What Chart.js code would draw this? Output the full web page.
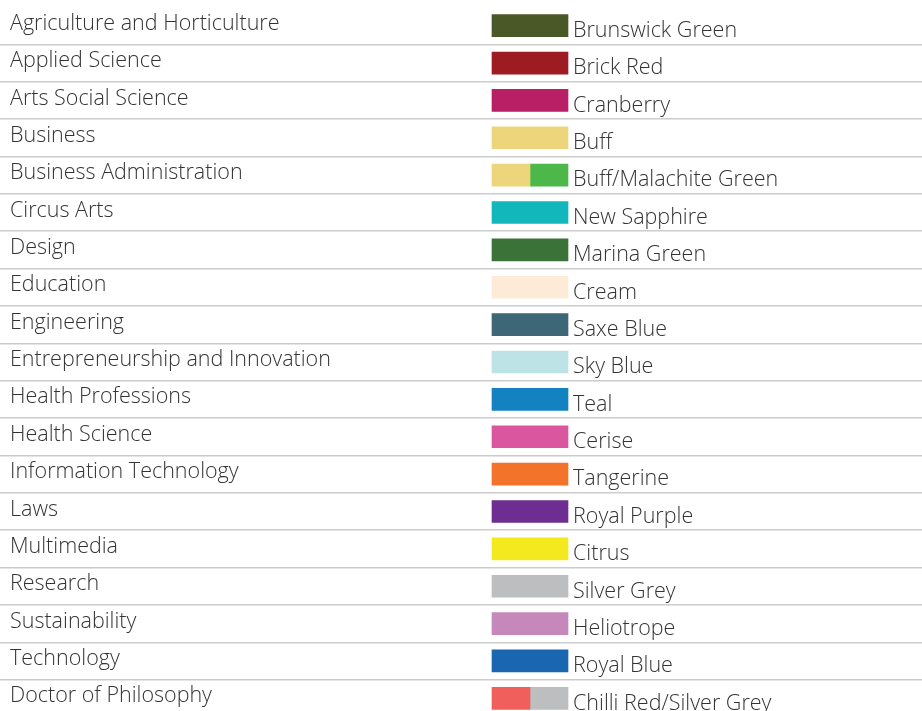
<!DOCTYPE html>
<html>
<head>
<meta charset="utf-8">
<script src="https://cdn.jsdelivr.net/npm/chart.js@4/dist/chart.umd.min.js"></script>
<style>
  html, body { margin: 0; padding: 0; background: #ffffff; overflow: hidden; }
  #wrap { position: relative; width: 922px; height: 717px; }
</style>
</head>
<body>
<div id="wrap"><canvas id="c"></canvas></div>
<script>
// ---- data ----
const categories = [
  "Agriculture and Horticulture",
  "Applied Science",
  "Arts Social Science",
  "Business",
  "Business Administration",
  "Circus Arts",
  "Design",
  "Education",
  "Engineering",
  "Entrepreneurship and Innovation",
  "Health Professions",
  "Health Science",
  "Information Technology",
  "Laws",
  "Multimedia",
  "Research",
  "Sustainability",
  "Technology",
  "Doctor of Philosophy"
];
const colourNames = [
  "Brunswick Green",
  "Brick Red",
  "Cranberry",
  "Buff",
  "Buff/Malachite Green",
  "New Sapphire",
  "Marina Green",
  "Cream",
  "Saxe Blue",
  "Sky Blue",
  "Teal",
  "Cerise",
  "Tangerine",
  "Royal Purple",
  "Citrus",
  "Silver Grey",
  "Heliotrope",
  "Royal Blue",
  "Chilli Red/Silver Grey"
];
const primaryColours = [
  "#4a5727", "#9d1c22", "#b91f65", "#ecd57a", "#ecd57a", "#12b7bc",
  "#3b7237", "#fdebd8", "#3d6677", "#bde3e6", "#1482c1", "#da57a0",
  "#f3732a", "#6c2e91", "#f4e91f", "#bdbec0", "#c688bb", "#1b66b1",
  "#f15f5d"
];
const secondaryColours = [
  null, null, null, null, "#4cb849", null,
  null, null, null, null, null, null,
  null, null, null, null, null, null,
  "#bdbec0"
];

// ---- layout constants ----
const CANVAS_W = 922;
const SWATCH_LEFT = 492;
const SWATCH_W = 76;
const TEXT_COLOUR = "#333333";
const FONT = { family: "'Open Sans', 'DejaVu Sans', sans-serif", size: 21.5, weight: "300" };

const firstPart = secondaryColours.map(c => c ? [0, 0.5] : [0, 1]);
const secondPart = secondaryColours.map(c => c ? [0.5, 1] : null);

const colourNamePlugin = {
  id: "colourNames",
  afterDatasetsDraw(chart) {
    const ctx = chart.ctx;
    const xs = chart.scales.x, ys = chart.scales.y;
    ctx.save();
    ctx.fillStyle = TEXT_COLOUR;
    ctx.font = `${FONT.weight} ${FONT.size}px ${FONT.family}`;
    ctx.textAlign = "left";
    ctx.textBaseline = "alphabetic";
    colourNames.forEach((name, i) => {
      const x = xs.getPixelForValue(1) + 5;
      const y = ys.getPixelForValue(i) + 11.3;
      ctx.fillText(name, x, y);
    });
    ctx.restore();
  }
};

new Chart(document.getElementById("c"), {
  type: "bar",
  data: {
    labels: categories,
    datasets: [
      {
        data: firstPart,
        backgroundColor: primaryColours,
        borderWidth: 0,
        borderSkipped: false,
        barThickness: 22,
        grouped: false
      },
      {
        data: secondPart,
        backgroundColor: secondaryColours.map(c => c || "rgba(0,0,0,0)"),
        borderWidth: 0,
        borderSkipped: false,
        barThickness: 22,
        grouped: false
      }
    ]
  },
  options: {
    indexAxis: "y",
    responsive: true,
    maintainAspectRatio: false,
    animation: false,
    layout: { padding: { top: 7, bottom: 0, left: 0, right: 0 } },
    plugins: { legend: { display: false }, tooltip: { enabled: false } },
    scales: {
      x: {
        type: "linear",
        display: false,
        min: -SWATCH_LEFT / SWATCH_W,
        max: (CANVAS_W - SWATCH_LEFT) / SWATCH_W
      },
      y: {
        type: "category",
        position: "left",
        offset: true,
        border: { display: false },
        grid: {
          offset: true,
          drawTicks: false,
          lineWidth: 1.5,
          color: (c) => c.index === 0 ? "rgba(0,0,0,0)" : "#cccccc"
        },
        ticks: {
          mirror: true,
          padding: 10,
          labelOffset: -2,
          color: TEXT_COLOUR,
          font: FONT
        },
        afterFit(scale) {
          scale.width = 0;
          scale.paddingTop = 0;
          scale.paddingBottom = 0;
        }
      }
    }
  },
  plugins: [colourNamePlugin]
});
</script>
</body>
</html>
